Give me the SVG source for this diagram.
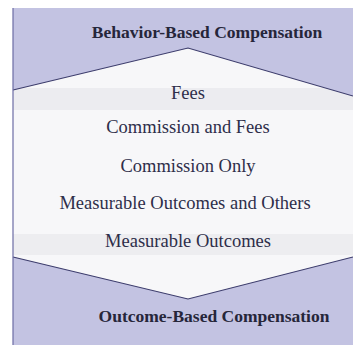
<svg xmlns="http://www.w3.org/2000/svg" width="353" height="345" viewBox="0 0 353 345">
  <style>
    .band { fill: #c3c3e2; }
    .edge { fill: none; stroke: #3c3c6c; stroke-width: 1.1; }
  </style>

  <!-- page background -->
  <rect x="0" y="0" width="353" height="345" fill="#ffffff"/>
  <!-- middle panel -->
  <rect x="13" y="8" width="340" height="337" fill="#f7f7f9"/>
  <!-- soft grey strips behind first and last item -->
  <rect x="13" y="88" width="340" height="22" fill="#ececf0"/>
  <rect x="13" y="234" width="340" height="21" fill="#ededf0"/>

  <g id="behavior-based">
    <polygon class="band" points="13,8 353,8 353,96 188,48 13,90"/>
    <polyline class="edge" points="13,90 188,48 353,96"/>
    <text x="207" y="38" font-family="Liberation Serif" font-weight="bold" font-size="17.5" fill="#26263a" text-anchor="middle">Behavior-Based Compensation</text>
  </g>

  <g id="outcome-based">
    <polygon class="band" points="13,257 188,299 353,257 353,345 13,345"/>
    <polyline class="edge" points="13,257 188,299 353,257"/>
    <text x="214" y="322" font-family="Liberation Serif" font-weight="bold" font-size="17.5" fill="#26263a" text-anchor="middle">Outcome-Based Compensation</text>
  </g>

  <g id="fees">
    <text x="188" y="99" font-family="Liberation Serif" font-size="18.5" fill="#2e2e4a" text-anchor="middle">Fees</text>
  </g>
  <g id="commission-and-fees">
    <text x="188" y="133" font-family="Liberation Serif" font-size="18.5" fill="#2e2e4a" text-anchor="middle">Commission and Fees</text>
  </g>
  <g id="commission-only">
    <text x="188" y="172" font-family="Liberation Serif" font-size="18.5" fill="#2e2e4a" text-anchor="middle">Commission Only</text>
  </g>
  <g id="measurable-and-others">
    <text x="185" y="209" font-family="Liberation Serif" font-size="18.5" fill="#2e2e4a" text-anchor="middle">Measurable Outcomes and Others</text>
  </g>
  <g id="measurable-outcomes">
    <text x="188" y="247" font-family="Liberation Serif" font-size="18.5" fill="#2e2e4a" text-anchor="middle">Measurable Outcomes</text>
  </g>

  <!-- left frame line -->
  <line x1="13" y1="8" x2="13" y2="345" stroke="#6c6ca4" stroke-width="1.2"/>
</svg>
